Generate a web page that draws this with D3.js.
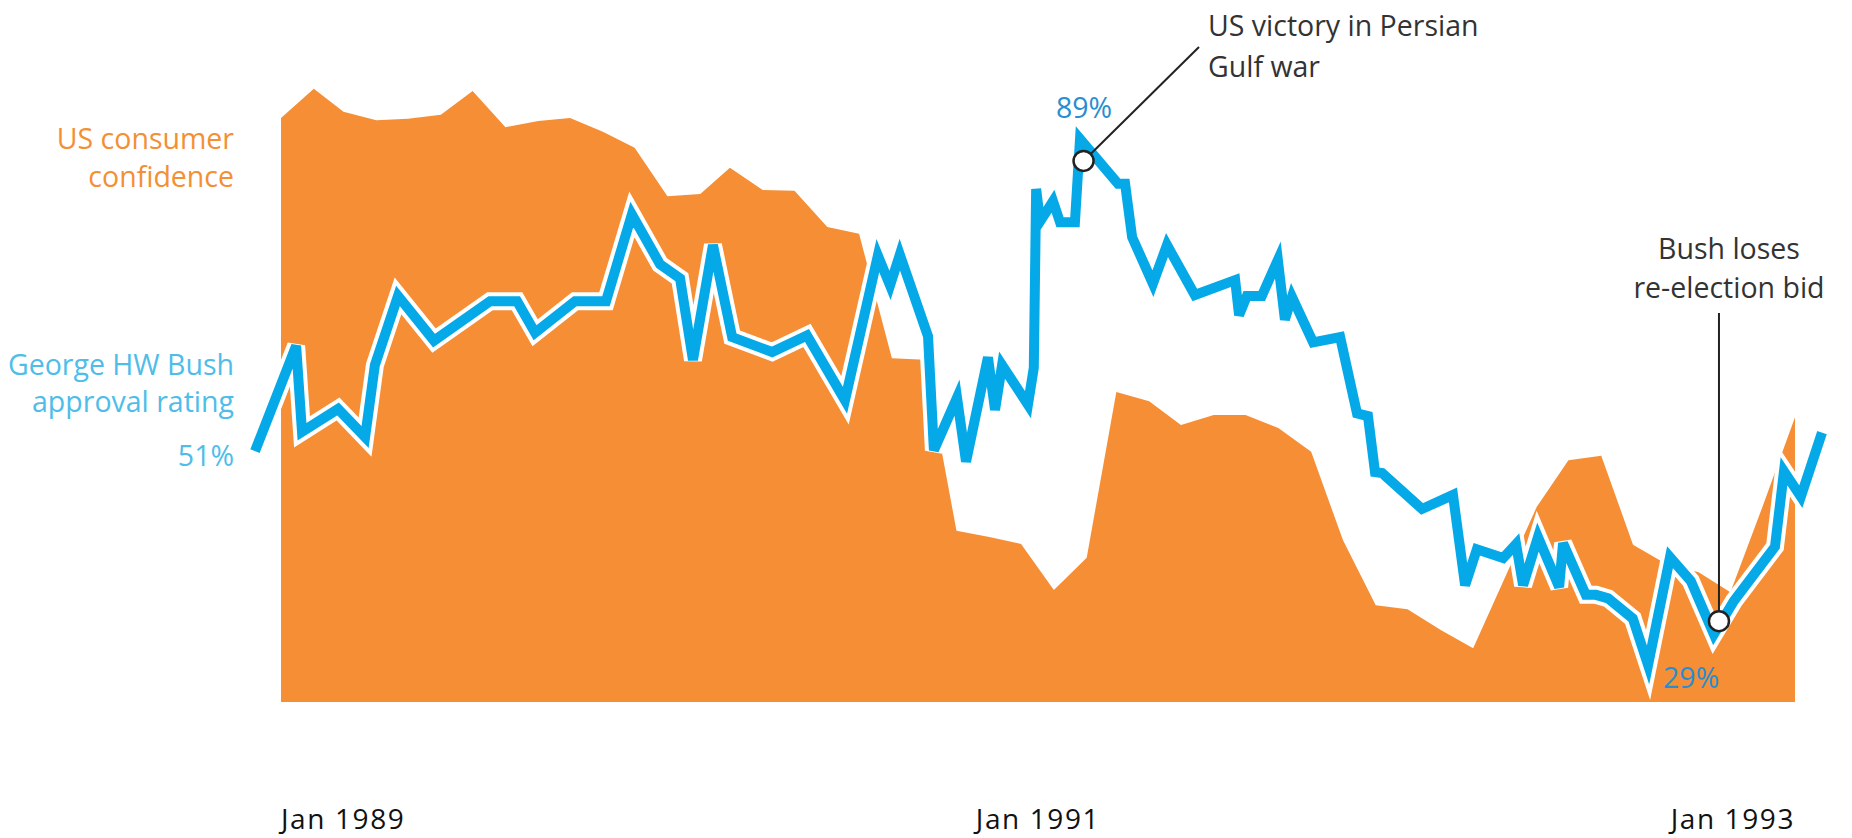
<!DOCTYPE html>
<html><head><meta charset="utf-8">
<script src="https://cdn.jsdelivr.net/npm/d3@7"></script>
<style>
html,body{margin:0;padding:0;background:#fff;}
svg{display:block;font-family:"Open Sans",sans-serif;}
</style></head><body>
<svg id="chart" width="1852" height="838"></svg>
<script>
// US consumer confidence index, monthly Jan 1989 – Dec 1992
const confidence = [116.1,119.9,116.9,115.8,116.0,116.5,119.6,114.9,115.7,116.1,114.3,112.2,
  105.9,106.2,109.6,106.7,106.6,101.9,101.0,84.8,84.6,62.3,61.5,60.6,
  54.6,58.8,80.4,79.2,76.1,77.4,77.4,75.7,72.6,61.1,52.6,52.1,
  49.4,47.0,55.9,65.4,71.5,72.1,60.5,58.0,56.9,54.3,65.7,77.1];
const confidenceMonths = d3.timeMonth.range(new Date(1989,0,1), new Date(1993,0,1));

// George HW Bush approval rating (%), poll dates as decimal years
const approvalDates = [1989.053,1989.158,1989.173,1989.265,1989.334,1989.359,1989.418,1989.510,1989.653,1989.722,
  1989.768,1989.870,1989.949,1990.015,1990.087,1990.138,1990.171,1990.222,1990.271,1990.373,
  1990.462,1990.559,1990.643,1990.674,1990.699,1990.771,1990.786,1990.845,1990.868,1990.924,
  1990.942,1990.960,1991.026,1991.041,1991.047,1991.057,1991.090,1991.108,1991.146,1991.159,
  1991.256,1991.274,1991.292,1991.345,1991.381,1991.452,1991.555,1991.565,1991.585,1991.623,
  1991.664,1991.682,1991.700,1991.754,1991.823,1991.866,1991.894,1991.912,1991.930,1992.032,
  1992.111,1992.142,1992.172,1992.239,1992.272,1992.290,1992.328,1992.382,1992.392,1992.450,
  1992.476,1992.507,1992.570,1992.609,1992.665,1992.718,1992.777,1992.828,1992.933,1992.956,
  1992.999,1993.053];
const approvalValues = [53.4,65.4,55.6,58.2,55.0,63.2,71.1,66.0,70.5,70.5,
  66.9,70.5,70.5,80.4,74.7,73.1,63.8,76.9,66.4,64.7,
  66.6,59.2,75.7,72.3,75.8,66.5,53.5,59.5,52.2,64.1,
  58.1,63.2,58.7,62.9,83.3,79.6,81.9,79.5,79.5,89.0,
  83.9,83.9,77.8,72.5,76.9,71.2,72.9,68.9,71.1,71.1,
  75.2,68.4,71.0,65.8,66.4,57.7,57.4,51.0,50.9,46.8,
  48.4,38.1,42.2,41.2,42.8,38.1,43.6,37.9,42.9,37.0,
  37.0,36.6,34.3,29.0,41.3,38.6,32.5,36.3,42.5,51.1,
  48.2,55.5];

const tickLabels = ["Jan 1989","Jan 1991","Jan 1993"];
const seriesLabels = {confidence:["US consumer","confidence"], approval:["George HW Bush","approval rating"]};
const valueLabels = [{text:"51%", i:0},{text:"89%", i:39},{text:"29%", i:73}];
const events = [
  {lines:["US victory in Persian","Gulf war"], t:1991.168, v:86.5},
  {lines:["Bush loses","re-election bid"], t:1992.790, v:34.0}
];

const svg = d3.select("#chart");
const FS = 28.5;
const ORANGE = "#f68e35", BLUE = "#05a9e8", LIGHTBLUE = "#4fbde9", DARKBLUE = "#2a8dcf", INK = "#333";

const xConf = d3.scaleTime().domain([confidenceMonths[0], confidenceMonths[confidenceMonths.length-1]]).range([281,1795]);
const yConf = d3.scaleLinear().domain([40,120]).range([702,88]);
const xAppr = d3.scaleLinear().domain([approvalDates[0], approvalDates[approvalDates.length-1]]).range([255,1822]);
const yAppr = d3.scaleLinear().domain([29,89]).range([665,139]);
const xTick = d3.scalePoint().domain(tickLabels).range([281,1795]);

const confData = confidence.map((v,i)=>({date:confidenceMonths[i], v}));
const apprData = approvalValues.map((v,i)=>({t:approvalDates[i], v}));

// area
svg.append("path").datum(confData)
  .attr("fill", ORANGE)
  .attr("d", d3.area().x(d=>xConf(d.date)).y0(yConf(40)).y1(d=>yConf(d.v)));

// approval line with white casing
const line = d3.line().x(d=>xAppr(d.t)).y(d=>yAppr(d.v));
svg.append("path").datum(apprData).attr("d", line)
  .attr("fill","none").attr("stroke","#fff").attr("stroke-width",18)
  .attr("stroke-linejoin","miter").attr("stroke-linecap","butt");
svg.append("path").datum(apprData).attr("d", line)
  .attr("fill","none").attr("stroke",BLUE).attr("stroke-width",10)
  .attr("stroke-linejoin","miter").attr("stroke-linecap","butt");

// axis labels
svg.append("g").selectAll("text").data(tickLabels).join("text")
  .attr("x", d=>xTick(d)).attr("y", 829)
  .attr("text-anchor", (d,i)=> i===0 ? "start" : (i===tickLabels.length-1 ? "end" : "middle"))
  .attr("font-size", 28).attr("letter-spacing", 1.6).attr("fill", "#111")
  .text(d=>d);

// series labels
function multiline(lines, x, y0, dy, anchor, color){
  const t = svg.append("text").attr("text-anchor", anchor).attr("font-size", FS).attr("fill", color);
  lines.forEach((l,i)=> t.append("tspan").attr("x", x).attr("y", y0 + i*dy).text(l));
  return t;
}
multiline(seriesLabels.confidence, 234, 149, 38, "end", "#f39033");
multiline(seriesLabels.approval, 234, 375, 37, "end", LIGHTBLUE);

// value labels
const v0 = apprData[valueLabels[0].i];
svg.append("text").attr("x", 234).attr("y", yAppr(v0.v)+15).attr("text-anchor","end")
  .attr("font-size", FS).attr("fill", LIGHTBLUE).text(valueLabels[0].text);
const v1 = apprData[valueLabels[1].i];
svg.append("text").attr("x", xAppr(v1.t)+4).attr("y", yAppr(v1.v)-21).attr("text-anchor","middle")
  .attr("font-size", FS).attr("fill", DARKBLUE).text(valueLabels[1].text);
const v2 = apprData[valueLabels[2].i];
svg.append("text").attr("x", xAppr(v2.t)+15).attr("y", yAppr(v2.v)+23).attr("text-anchor","start")
  .attr("font-size", FS).attr("fill", DARKBLUE).text(valueLabels[2].text);

// event annotations
const e1 = events[0], e2 = events[1];
const c1x = xAppr(e1.t), c1y = yAppr(e1.v);
const c2x = xAppr(e2.t), c2y = yAppr(e2.v);
svg.append("line").attr("x1", c1x).attr("y1", c1y).attr("x2", 1199).attr("y2", 47)
  .attr("stroke", "#222").attr("stroke-width", 2);
svg.append("line").attr("x1", c2x).attr("y1", 313).attr("x2", c2x).attr("y2", c2y)
  .attr("stroke", "#222").attr("stroke-width", 2);
[[c1x,c1y],[c2x,c2y]].forEach(([x,y])=>{
  svg.append("circle").attr("cx", x).attr("cy", y).attr("r", 10)
    .attr("fill","#fff").attr("stroke","#222").attr("stroke-width",2.5);
});
multiline(e1.lines, 1208, 36, 41, "start", INK);
multiline(e2.lines, c2x+10, 259, 39, "middle", INK);
</script>
</body></html>
